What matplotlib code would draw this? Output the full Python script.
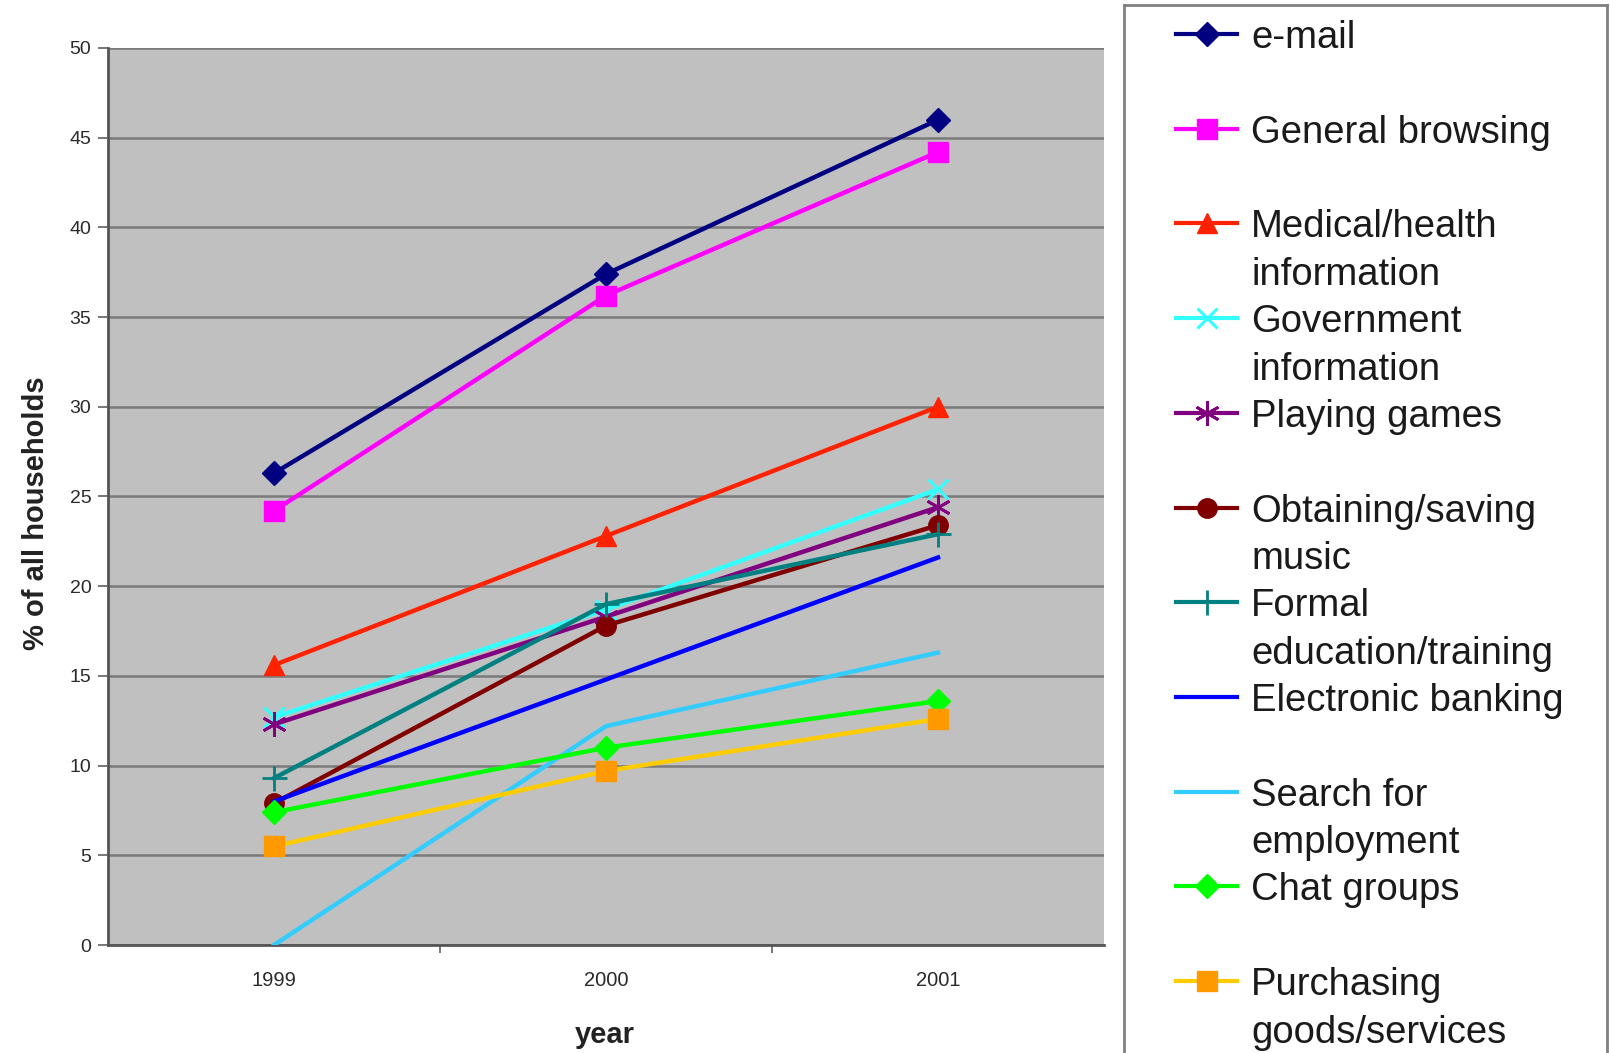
import matplotlib
matplotlib.use("Agg")
import matplotlib.pyplot as plt

years = ["1999", "2000", "2001"]
yticks = [0, 5, 10, 15, 20, 25, 30, 35, 40, 45, 50]

series_names = [
    "e-mail",
    "General browsing",
    "Medical/health\ninformation",
    "Government\ninformation",
    "Playing games",
    "Obtaining/saving\nmusic",
    "Formal\neducation/training",
    "Electronic banking",
    "Search for\nemployment",
    "Chat groups",
    "Purchasing\ngoods/services",
]

email = [26.3, 37.4, 46.0]
browsing = [24.2, 36.2, 44.2]
medical = [15.6, 22.8, 30.0]
government = [12.7, 18.7, 25.4]
games = [12.3, 18.3, 24.4]
music = [7.9, 17.8, 23.4]
education = [9.3, 19.0, 22.9]
banking = [8.0, 14.8, 21.6]
employment = [0.0, 12.2, 16.3]
chat = [7.4, 11.0, 13.6]
purchasing = [5.5, 9.7, 12.6]

series_values = [email, browsing, medical, government, games, music,
                 education, banking, employment, chat, purchasing]

styles = [
    dict(color="#000080", marker="D", ms=12, mfc="#000080", mec="#000080", mew=1),
    dict(color="#FF00FF", marker="s", ms=14, mfc="#FF00FF", mec="#FF00FF", mew=1),
    dict(color="#FF2200", marker="^", ms=15, mfc="#FF2200", mec="#FF2200", mew=1),
    dict(color="#33FFFF", marker="x", ms=15, mfc="#33FFFF", mec="#33FFFF", mew=2.2),
    dict(color="#800080", marker=(6, 2, 0), ms=18, mfc="#800080", mec="#800080", mew=2.0),
    dict(color="#800000", marker="o", ms=14, mfc="#800000", mec="#800000", mew=1),
    dict(color="#008080", marker="+", ms=18, mfc="#008080", mec="#008080", mew=2.0),
    dict(color="#0000FF", marker="None"),
    dict(color="#33CCFF", marker="None"),
    dict(color="#00FF00", marker="D", ms=12, mfc="#00FF00", mec="#00FF00", mew=1),
    dict(color="#FFCC00", marker="s", ms=14, mfc="#FF9900", mec="#FF9900", mew=1),
]

W, H = 1610, 1053
fig = plt.figure(figsize=(W / 100, H / 100), dpi=100)
fig.patch.set_facecolor("white")

L, R, T, B = 108, 1104, 48, 945
ax = fig.add_axes([L / W, (H - B) / H, (R - L) / W, (B - T) / H])
ax.set_facecolor("#C0C0C0")

x = list(range(len(years)))
for vals, st in zip(series_values, styles):
    ax.plot(x, vals, lw=3.2, solid_joinstyle="round", **st, zorder=3)

ax.set_xlim(-0.5, len(years) - 0.5)
ax.set_ylim(0, 50)
ax.set_yticks(yticks)
ax.set_yticklabels([str(v) for v in yticks])
ax.set_xticks(x)
ax.set_xticklabels(years)
ax.set_xticks([0.5, 1.5], minor=True)

ax.grid(axis="y", color="#7a7a7a", lw=1.8, zorder=1)
ax.set_axisbelow(True)
for s in ["top", "right"]:
    ax.spines[s].set_visible(False)
for s in ["left", "bottom"]:
    ax.spines[s].set_color("#555555")
    ax.spines[s].set_linewidth(2.0)

ax.tick_params(axis="y", length=7, width=1.2, color="#606060", pad=5,
               labelcolor="#2a2a2a", labelsize=14)
ax.tick_params(axis="x", which="major", length=0, pad=19,
               labelcolor="#2a2a2a", labelsize=14.5)
ax.tick_params(axis="x", which="minor", length=6, width=1.2, color="#606060")
for lab in ax.get_xticklabels() + ax.get_yticklabels():
    lab.set_family(["Liberation Sans", "DejaVu Sans"])

label_font = dict(family=["Liberation Sans", "DejaVu Sans"],
                  weight="bold", size=21, color="#222222")
ax.set_ylabel("% of all households", **label_font)
ax.yaxis.set_label_coords((36 - L) / (R - L), (B - 513) / (B - T))
ax.set_xlabel("year", **label_font)
ax.xaxis.set_label_coords((605 - L) / (R - L), (B - 1035) / (B - T))
ax.xaxis.label.set_va("center")
ax.yaxis.label.set_va("center")

# Legend panel (pixel coordinates)
LX0, LX1, LY0 = 1124, 1607, 5
lax = fig.add_axes([LX0 / W, 0, (LX1 - LX0) / W, (H - LY0) / H])
lax.set_xlim(LX0, LX1)
lax.set_ylim(H, LY0)
lax.set_xticks([])
lax.set_yticks([])
lax.set_facecolor("white")
for s in ["left", "top", "right"]:
    lax.spines[s].set_color("#808080")
    lax.spines[s].set_linewidth(2.0)
lax.spines["bottom"].set_visible(False)

entry0, step, line_gap = 34, 94.7, 47.5
for i, (name, st) in enumerate(zip(series_names, styles)):
    yy = entry0 + step * i
    line_st = {k: v for k, v in st.items() if k not in ("marker", "ms", "mfc", "mec", "mew")}
    lax.plot([1176, 1237], [yy, yy], lw=3.0, **line_st, clip_on=False)
    if st.get("marker", "None") != "None":
        lax.plot([1206.5], [yy], linestyle="None", marker=st["marker"],
                 ms=st["ms"], mfc=st["mfc"], mec=st["mec"], mew=st["mew"], clip_on=False)
    for j, line in enumerate(name.split("\n")):
        lax.text(1251, yy + 14 + j * line_gap, line, fontsize=27.5,
                 family=["Liberation Sans", "DejaVu Sans"], color="#1a1a1a",
                 va="baseline", ha="left")

fig.savefig("out.png", dpi=100)
